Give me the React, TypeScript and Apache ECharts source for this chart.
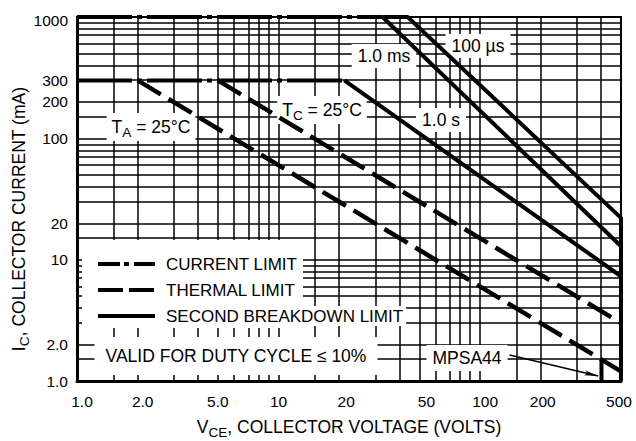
import React, { useEffect, useRef } from 'react';
import * as echarts from 'echarts';

// Axis ticks (raw values, plotted on log10 scales)
const xTickValues = [1, 2, 5, 10, 20, 50, 100, 200, 500];
const xTickLabels = ['1.0', '2.0', '5.0', '10', '20', '50', '100', '200', '500'];
const yTickValues = [1, 2, 10, 20, 100, 200, 300, 1000];
const yTickLabels = ['1.0', '2.0', '10', '20', '100', '200', '300', '1000'];

// Graph-paper grid lines
const vGridValues = [1.5, 2, 3, 4, 5, 6, 7, 8, 9, 10, 15, 20, 30, 40, 50, 60, 70, 80, 90, 100, 150, 200, 300, 400];
const hGridValues = [1.5, 2, 3, 4, 5, 6, 7, 8, 9, 10, 15, 20, 30, 40, 50, 60, 70, 80, 90, 100, 150, 200, 300, 400, 500, 600, 700, 800, 900];

// Curves: [VCE (V), IC (mA)]
const currentLimit1000 = [[1, 1000], [32.8, 1000]];
const currentLimit300 = [[1, 300], [21.2, 300]];
const thermalTA = [[2, 300], [500, 1.2]];
const thermalTC = [[5, 300], [500, 3]];
const breakdown1s = [[21.2, 300], [500, 7.3]];
const breakdown1ms = [[32.8, 1000], [500, 12.9]];
const breakdown100us = [[32.8, 1000], [43.7, 1000], [500, 22.1], [500, 1]];
const mpsa44Limit = [[400, 1.5], [400, 1]];
const mpsa44Arrow = [[140, 1.64], [385, 1.1]];

const lg = (v: number) => Math.log10(v);
const toLog = (pts: number[][]) => pts.map(([v, i]) => [lg(v), lg(i)]);

// hand-lettered label nudges of the original (style only, in px)
const X_NUDGE: Record<string, string> = { '1.0': 'r5', '2.0': 'r5', '20': 'r7', '50': 'r7', '100': 'r5', '200': 'r2', '500': 'l2' };
const Y_NUDGE: Record<string, string> = { '1000': 'd3' };
const nudgeRich = {
  r2: { padding: [0, 0, 0, 4] },
  r5: { padding: [0, 0, 0, 10] },
  r7: { padding: [0, 0, 0, 14] },
  l2: { padding: [0, 4, 0, 0] },
  d3: { padding: [6, 0, 0, 0] },
};
const fmt = (values: number[], labels: string[], nudge: Record<string, string>) => (val: number) => {
  const i = values.findIndex((v) => Math.abs(lg(v) - val) < 1e-6);
  if (i < 0) return '';
  const t = labels[i];
  return nudge[t] ? `{${nudge[t]}|${t}}` : t;
};

const FONT = "'Liberation Sans', Arial, Helvetica, sans-serif";
const DASH_DOT = [55, 5, 5, 5];
const DASHED = [27, 9];

const curve = (name: string, data: number[][], type: any, width: number) => ({
  type: 'line',
  name,
  data: toLog(data),
  symbol: 'none',
  silent: true,
  z: 3,
  color: '#000',
  lineStyle: { color: '#000', width, type, cap: 'butt' },
  animation: false,
});

const subRich = (size: number) => ({
  m: { fontSize: size, lineHeight: 24, fontFamily: FONT, color: '#000' },
  s: { fontSize: size * 0.78, lineHeight: 13, verticalAlign: 'bottom', fontFamily: FONT, color: '#000' },
});

const label = (text: string, x: number, y: number, padding: number[], rich?: any) => ({
  type: 'text',
  x,
  y,
  z: 2,
  silent: true,
  style: {
    text,
    align: 'center',
    verticalAlign: 'middle',
    fontSize: 17.5,
    fontFamily: FONT,
    fill: '#000',
    backgroundColor: '#fff',
    padding,
    rich,
  },
});

const hiddenSymbol = { opacity: 0, borderWidth: 0, color: 'rgba(0,0,0,0)' };

export default function App() {
  const ref = useRef<HTMLDivElement>(null);
  useEffect(() => {
    if (!ref.current) return;
    const chart = echarts.init(ref.current, null, { renderer: 'svg' });
    const option: any = {
      animation: false,
      backgroundColor: '#fff',
      textStyle: { fontFamily: FONT, color: '#000' },
      grid: {
        left: 77, right: 15, top: 17, bottom: 60,
        show: true, borderColor: '#000', borderWidth: 2, backgroundColor: 'transparent',
        containLabel: false, outerBoundsMode: 'none',
      },
      xAxis: {
        type: 'value', min: 0, max: lg(500),
        name: '{m|V}{s|CE}{m|, COLLECTOR VOLTAGE (VOLTS)}',
        nameLocation: 'middle', nameGap: 34, nameMoveOverlap: false,
        nameTextStyle: { rich: subRich(17.5) },
        axisLine: { show: true, onZero: false, lineStyle: { color: '#000', width: 3 } },
        axisTick: { show: false },
        splitLine: { show: false },
        axisLabel: {
          customValues: xTickValues.map(lg), formatter: fmt(xTickValues, xTickLabels, X_NUDGE),
          color: '#000', fontSize: 15.5, fontFamily: FONT, margin: 12, rich: nudgeRich,
        },
      },
      yAxis: {
        type: 'value', min: 0, max: 3,
        name: '{m|I}{s|C}{m|, COLLECTOR CURRENT (mA)}',
        nameLocation: 'middle', nameGap: 46, nameMoveOverlap: false,
        nameTextStyle: { rich: subRich(17.5), align: 'center', padding: [0, 40, 0, 0] },
        axisLine: { show: true, onZero: false, lineStyle: { color: '#000', width: 3 } },
        axisTick: { show: false },
        splitLine: { show: false },
        axisLabel: {
          customValues: yTickValues.map(lg), formatter: fmt(yTickValues, yTickLabels, Y_NUDGE),
          color: '#000', fontSize: 15.5, fontFamily: FONT, margin: 9, rich: nudgeRich,
        },
      },
      legend: {
        orient: 'vertical', left: 96, top: 254, padding: 0, itemGap: 6,
        itemWidth: 57, itemHeight: 14, z: 4, selectedMode: false,
        itemStyle: hiddenSymbol,
        textStyle: { fontSize: 17, color: '#000', fontFamily: FONT, backgroundColor: '#fff', padding: [1, 3, 1, 6], lineHeight: 18 },
        data: [
          { name: 'CURRENT LIMIT', itemStyle: hiddenSymbol, lineStyle: { type: [22, 4, 5, 5], width: 4, color: '#000' } },
          { name: 'THERMAL LIMIT', itemStyle: hiddenSymbol, lineStyle: { type: [25, 6], width: 4, color: '#000' } },
          { name: 'SECOND BREAKDOWN LIMIT', itemStyle: hiddenSymbol, lineStyle: { type: 'solid', width: 4, color: '#000' } },
        ],
      },
      graphic: [
        { type: 'rect', z: 2, silent: true, shape: { x: 82, y: 240, width: 221, height: 88 }, style: { fill: '#fff' } },
        label('1.0 ms', 384, 56, [3, 6]),
        label('100 µs', 478, 46, [3, 6]),
        label('1.0 s', 441, 120, [3, 6]),
        label('{m|T}{s|C}{m| = 25°C}', 322, 110, [2, 5], subRich(17.5)),
        label('{m|T}{s|A}{m| = 25°C}', 151, 127, [2, 5], subRich(17.5)),
        label('VALID FOR DUTY CYCLE ≤ 10%', 236, 356, [10, 11]),
        label('MPSA44', 467, 358, [4, 6]),
      ],
      series: [
        {
          type: 'line', name: 'grid', data: [[0, 0]], symbol: 'none', z: 1, silent: true,
          lineStyle: { width: 0 },
          markLine: {
            z: 1, silent: true, symbol: 'none', animation: false, label: { show: false },
            lineStyle: { color: '#000', width: 1.5, type: 'solid' },
            emphasis: { disabled: true },
            data: [
              ...vGridValues.map((v) => ({ xAxis: lg(v) })),
              ...hGridValues.map((v) => ({ yAxis: lg(v) })),
            ],
          },
        },
        curve('CURRENT LIMIT', currentLimit1000, DASH_DOT, 4),
        curve('CURRENT LIMIT', currentLimit300, DASH_DOT, 4),
        curve('THERMAL LIMIT', thermalTA, DASHED, 4.5),
        curve('THERMAL LIMIT', thermalTC, DASHED, 4.5),
        curve('SECOND BREAKDOWN LIMIT', breakdown1s, 'solid', 4),
        curve('SECOND BREAKDOWN LIMIT', breakdown1ms, 'solid', 4),
        curve('SECOND BREAKDOWN LIMIT', breakdown100us, 'solid', 4),
        curve('MPSA44 LIMIT', mpsa44Limit, 'solid', 4),
        {
          type: 'line', name: 'MPSA44 ARROW', data: [[0, 0]], symbol: 'none', z: 3, silent: true,
          lineStyle: { width: 0 },
          markLine: {
            z: 3, silent: true, symbol: ['none', 'arrow'], symbolSize: [4, 14], animation: false,
            label: { show: false }, emphasis: { disabled: true },
            lineStyle: { color: '#000', width: 1.6, type: 'solid' },
            data: [[{ coord: toLog(mpsa44Arrow)[0] }, { coord: toLog(mpsa44Arrow)[1] }]],
          },
        },
      ],
    };
    chart.setOption(option);
    return () => chart.dispose();
  }, []);
  return <div ref={ref} style={{ position: 'absolute', left: 0, top: 0, width: 636, height: 441 }} />;
}
